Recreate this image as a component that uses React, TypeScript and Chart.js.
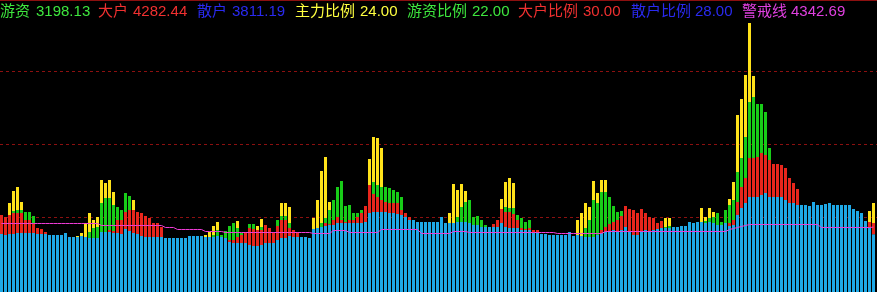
import React, { useEffect, useRef } from "react";
import { Chart, registerables } from "chart.js";

Chart.register(...registerables);

// Per-bar levels of the indicator. Each colour is drawn from the level below it
// up to its own level; null means that colour is absent on that bar.
const sanhu: number[] = [
  3836, 3768, 3836, 3836, 3905, 3905, 3905, 3905, 3905, 3836,
  3836, 3836, 3768, 3768, 3768, 3768, 3905, 3631, 3631, 3631,
  3699, 3631, 3562, 3562, 3562, 3973, 3973, 3973, 3905, 3905,
  3836, 4179, 4042, 3905, 3836, 3699, 3631, 3631, 3631, 3631,
  3631, 3562, 3562, 3562, 3562, 3562, 3562, 3699, 3699, 3699,
  3699, 3631, 3631, 3631, 3699, 3631, 3562, 3288, 3220, 3220,
  3220, 3220, 3083, 3014, 3014, 3083, 3220, 3220, 3220, 3425,
  3562, 3562, 3699, 3631, 3631, 3631, 3631, 3562, 4179, 4247,
  4316, 4384, 4453, 4453, 4590, 4590, 4590, 4590, 4590, 4590,
  4590, 4658, 5275, 5343, 5343, 5343, 5343, 5275, 5275, 5206,
  5138, 5001, 4795, 4795, 4658, 4658, 4658, 4658, 4658, 4658,
  5001, 4590, 4590, 4590, 4658, 4658, 4658, 4590, 4453, 4453,
  4316, 4316, 4316, 4316, 4316, 4590, 4316, 4247, 4247, 4247,
  4110, 4110, 4110, 3905, 3905, 3836, 3836, 3768, 3768, 3768,
  3768, 3768, 3973, 3699, 3768, 3699, 3631, 3631, 3631, 3768,
  3905, 3973, 4042, 4110, 3973, 4110, 4316, 3973, 3768, 3768,
  3973, 4110, 4042, 4110, 4179, 4247, 4247, 4247, 4316, 4316,
  4384, 4384, 4658, 4590, 4658, 4658, 4590, 4658, 4590, 4453,
  4453, 4590, 4384, 4453, 5138, 5617, 5960, 6371, 6371, 6371,
  6508, 6645, 6371, 6371, 6371, 6371, 6165, 5960, 5960, 5823,
  5823, 5823, 5754, 6028, 5823, 5823, 5891, 5960, 5823, 5823,
  5823, 5823, 5823, 5549, 5412, 5275, 4727, 4247, 3811.19,
];

const n = null;

const dahu: (number | null)[] = [
  5138, 5001, 5138, 5275, 5275, 5275, 4795, 4795, 4521, 4247,
  4179, 3973, n, n, n, n, n, n, n, n,
  n, n, n, n, n, n, n, 4110, 4042, 4795,
  4795, 5343, 5480, 5480, 5343, 5275, 5069, 4932, 4590, 4590,
  4316, n, n, n, n, n, n, n, n, n,
  n, n, n, n, n, n, n, 3425, 3425, 3631,
  3768, 3973, 4247, 4179, 4110, 4110, 4453, 4247, 3973, 4384,
  4795, 4795, 4247, 4110, 3973, n, n, n, n, n,
  n, 4590, 4521, 4795, 5001, 4795, 4658, 4795, 4795, 5001,
  5275, 5754, 7193, 6576, 6371, 6165, 6028, 5960, 5960, 5960,
  5480, 5275, 5001, n, n, n, n, n, n, n,
  n, n, n, n, n, n, n, n, n, n,
  n, n, n, 4521, 4795, 5549, 5343, 5343, 5206, 4795,
  4247, 4179, 4247, 4110, 4110, n, n, n, n, n,
  n, n, n, n, n, n, n, n, n, n,
  4110, 4316, 4521, 4658, 4795, 5069, 5754, 5549, 5480, 5275,
  5549, 5275, 5001, 4932, 4590, 4727, n, n, n, n,
  n, n, n, n, n, n, n, n, n, n,
  n, n, 4590, 4795, 6028, 7056, 7672, 9042, 9042, 9111,
  9385, 9248, 8905, 8631, 8631, 8563, 8357, 7672, 7330, 6919,
  n, n, n, n, n, n, n, n, n, n,
  n, n, n, n, n, n, n, 4658, 4590,
];

const youzi: (number | null)[] = [
  n, n, n, 5412, 5480, 5480, 5343, 5343, 5069, n,
  n, n, n, n, n, n, n, n, n, n,
  n, n, 3973, 4247, 4316, 5960, 6302, 6302, 5823, 5686,
  5480, 6645, 6439, n, n, n, n, n, n, n,
  n, n, n, n, n, n, n, n, n, n,
  n, n, n, 3768, 4110, 3768, 4042, 4384, 4590, 4247,
  3905, n, 4521, 4521, n, 4316, n, n, n, 4795,
  5069, 5069, 4590, n, n, n, n, n, n, n,
  4590, 4932, 5480, 6165, 7056, 7467, 5754, 5823, 5275, 5275,
  5480, n, n, 7398, 7193, 7056, 7056, 6987, 6850, 6713,
  6371, n, n, n, n, n, n, n, n, n,
  n, n, n, n, 5001, 5686, 6028, 6165, 5001, 5069,
  4795, 4453, n, n, n, n, 5686, 5617, 5617, 5138,
  4932, 4658, 4795, n, n, n, n, n, n, n,
  n, n, n, n, n, n, 4247, 4795, 6165, 5960,
  6713, 6713, 6371, 5754, 5343, 5412, n, n, n, n,
  n, n, n, n, n, n, 4316, 4384, n, n,
  n, n, n, n, n, n, 4727, 4932, 5001, 5275,
  4658, 5480, 5823, 6165, 8083, 9042, 10481, 12878, 13221, 12741,
  12741, 12193, 9727, n, n, n, n, n, n, n,
  n, n, n, n, n, n, n, n, n, n,
  n, n, n, n, n, n, n, n, n,
];

const zhuli: (number | null)[] = [
  n, n, 5960, 6782, 7056, 6028, n, n, n, n,
  n, n, n, n, n, n, n, n, n, 3699,
  3905, 4590, 5275, 4795, 5001, 7535, 7330, 7535, 6713, n,
  n, n, n, 6165, n, n, n, n, n, n,
  n, n, n, n, n, n, n, n, n, n,
  n, 3768, 3973, 4384, 4658, n, n, n, n, 4727,
  n, n, n, n, 4384, 4864, n, n, n, n,
  5960, 5960, 5686, n, n, n, n, n, 4932, 6165,
  8152, 9111, 6028, n, n, n, n, n, n, n,
  n, n, 8974, 10481, 10412, 9727, n, n, n, n,
  n, n, n, n, n, n, n, n, n, n,
  n, n, 5275, 7261, 6850, 7261, 6782, n, n, n,
  n, n, n, n, n, 6234, 7398, 7672, 7330, n,
  n, n, n, n, n, n, n, n, n, n,
  n, n, n, n, 4795, 5275, 5960, 5686, 7467, 6645,
  7535, 7535, n, n, n, n, n, n, n, n,
  n, n, n, n, n, n, 4932, 4932, n, n,
  n, n, n, n, n, 5617, 5001, 5617, 5343, n,
  n, n, 6234, 7398, 11988, 13084, 14728, 18290, 14659, n,
  n, n, n, n, n, n, n, n, n, n,
  n, n, n, n, n, n, n, n, n, n,
  n, n, n, n, n, n, n, 5412, 5960,
];

// 警戒线
const jingjie: number[] = [
  4590, 4590, 4590, 4590, 4590, 4590, 4590, 4590, 4590, 4590,
  4590, 4590, 4590, 4590, 4590, 4590, 4590, 4590, 4590, 4590,
  4590, 4590, 4590, 4590, 4590, 4453, 4453, 4453, 4453, 4453,
  4453, 4453, 4453, 4453, 4453, 4453, 4453, 4453, 4453, 4453,
  4453, 4316, 4316, 4316, 4179, 4179, 4179, 4179, 4179, 4179,
  4179, 4042, 4042, 4042, 4042, 4042, 3973, 3973, 3973, 3973,
  3973, 3973, 3973, 3973, 3973, 3973, 3973, 3973, 3973, 3973,
  3973, 3973, 3973, 3973, 3973, 3973, 3973, 3973, 3905, 3905,
  3905, 3905, 3905, 4110, 4110, 4110, 4110, 3973, 3973, 3973,
  3973, 3973, 3973, 3973, 3973, 4179, 4179, 4179, 4179, 4179,
  4179, 4179, 4179, 4179, 4179, 3905, 3905, 3905, 3905, 3905,
  3905, 3905, 3905, 4042, 4042, 4042, 4042, 3973, 3973, 3973,
  3973, 3973, 3973, 3973, 3973, 3973, 3973, 3973, 3973, 3973,
  3973, 3973, 3973, 3973, 3973, 3973, 3973, 3973, 3973, 3905,
  3905, 3905, 3905, 3905, 3905, 3905, 3905, 3905, 3905, 3905,
  3905, 4042, 4042, 4042, 4042, 4042, 4042, 4042, 4042, 4042,
  4042, 4042, 4042, 4042, 4042, 4042, 4042, 4042, 4042, 4042,
  4042, 4042, 4042, 4042, 4042, 4042, 4042, 4042, 4042, 4042,
  4042, 4042, 4179, 4247, 4316, 4384, 4453, 4521, 4521, 4521,
  4521, 4521, 4521, 4521, 4521, 4521, 4521, 4521, 4521, 4521,
  4521, 4521, 4521, 4521, 4521, 4316, 4316, 4316, 4316, 4316,
  4316, 4316, 4316, 4316, 4316, 4316, 4316, 4316, 4342.69,
];

const labels = sanhu.map((_, i) => String(i + 1));

// Value axis: zero sits two pixels above the panel floor, dashed guides every 5000.
const Y_MIN = -137;
const Y_MAX = 19865;
const GUIDE_VALUES = [5000, 10000, 15000];

const BLUE = "#1ea8e6";
const RED = "#e8261c";
const GREEN = "#18cc18";
const YELLOW = "#ffe21a";
const LINE = "#f03cd8";
const GUIDE = "#8c1010";

type LegendItem = { label: string; value: string; color: string; x: number; vx: number };

const legendItems: LegendItem[] = [
  { label: "游资", value: "3198.13", color: "#3ee63e", x: 0, vx: 36 },
  { label: "大户", value: "4282.44", color: "#f03030", x: 98, vx: 133 },
  { label: "散户", value: "3811.19", color: "#2a2af0", x: 197, vx: 232 },
  { label: "主力比例", value: "24.00", color: "#ffff40", x: 295, vx: 360 },
  { label: "游资比例", value: "22.00", color: "#3ee63e", x: 407, vx: 472 },
  { label: "大户比例", value: "30.00", color: "#f03030", x: 518, vx: 583 },
  { label: "散户比例", value: "28.00", color: "#2a2af0", x: 631, vx: 695 },
  { label: "警戒线", value: "4342.69", color: "#e040e0", x: 742, vx: 791 },
];

const panelPlugin = {
  id: "panel",
  beforeDatasetsDraw(chart: any) {
    const { ctx, scales, width } = chart;
    ctx.save();
    ctx.lineWidth = 1;
    ctx.strokeStyle = GUIDE;
    ctx.setLineDash([3, 3]);
    for (const v of GUIDE_VALUES) {
      const y = Math.round(scales.y.getPixelForValue(v)) + 0.5;
      ctx.beginPath();
      ctx.moveTo(0, y);
      ctx.lineTo(width, y);
      ctx.stroke();
    }
    ctx.setLineDash([]);
    ctx.beginPath();
    ctx.moveTo(0, 0.5);
    ctx.lineTo(width, 0.5);
    ctx.stroke();
    ctx.restore();
  },
  beforeDatasetDraw(chart: any, args: any) {
    const ctx = chart.ctx;
    ctx.save();
    // keep bar edges and the 1px line on whole pixels
    ctx.translate(-0.5, args.meta.type === "line" ? 0.5 : 0);
  },
  afterDatasetDraw(chart: any) {
    chart.ctx.restore();
  },
};

export default function App() {
  const canvasRef = useRef<HTMLCanvasElement | null>(null);

  useEffect(() => {
    document.body.style.margin = "0";
    document.body.style.background = "#000";
    const canvas = canvasRef.current;
    if (!canvas) return;

    const redBars = dahu.map((v, i) => (v === null ? null : [sanhu[i], v]));
    const greenBars = youzi.map((v, i) => (v === null ? null : [dahu[i] ?? sanhu[i], v]));
    const yellowBars = zhuli.map((v, i) =>
      v === null ? null : [youzi[i] ?? dahu[i] ?? sanhu[i], v]
    );

    const chart = new Chart(canvas, {
      type: "bar",
      data: {
        labels,
        datasets: [
          {
            type: "line",
            label: "警戒线",
            data: jingjie,
            borderColor: LINE,
            borderWidth: 1,
            pointRadius: 0,
            tension: 0,
            order: 0,
          } as any,
          { label: "主力", data: yellowBars as any, backgroundColor: YELLOW, order: 1 },
          { label: "游资", data: greenBars as any, backgroundColor: GREEN, order: 1 },
          { label: "大户", data: redBars as any, backgroundColor: RED, order: 1 },
          { label: "散户", data: sanhu, base: Y_MIN, backgroundColor: BLUE, order: 1 } as any,
        ],
      },
      options: {
        animation: false,
        responsive: false,
        devicePixelRatio: 1,
        layout: { padding: { left: 0, right: 1, top: 0, bottom: 0 } },
        plugins: { legend: { display: false }, tooltip: { enabled: false } },
        datasets: {
          bar: { barPercentage: 0.75, categoryPercentage: 1, borderWidth: 0 },
        },
        scales: {
          x: { display: false, stacked: true, offset: true },
          y: { display: false, stacked: false, min: Y_MIN, max: Y_MAX },
        },
      },
      plugins: [panelPlugin],
    });

    return () => chart.destroy();
  }, []);

  const textStyle: React.CSSProperties = {
    position: "absolute",
    top: 1,
    fontFamily: '"Liberation Sans", "Noto Sans CJK SC", sans-serif',
    fontSize: 15,
    lineHeight: "20px",
    whiteSpace: "pre",
  };

  return (
    <div
      style={{
        position: "fixed",
        left: 0,
        top: 0,
        width: 877,
        height: 292,
        background: "#000",
        overflow: "hidden",
      }}
    >
      <canvas
        ref={canvasRef}
        width={877}
        height={292}
        style={{ position: "absolute", left: 0, top: 0, width: 877, height: 292 }}
      />
      {legendItems.map((item) => (
        <React.Fragment key={item.label}>
          <span style={{ ...textStyle, left: item.x, color: item.color }}>{item.label}</span>
          <span style={{ ...textStyle, left: item.vx, color: item.color }}>{item.value}</span>
        </React.Fragment>
      ))}
    </div>
  );
}
